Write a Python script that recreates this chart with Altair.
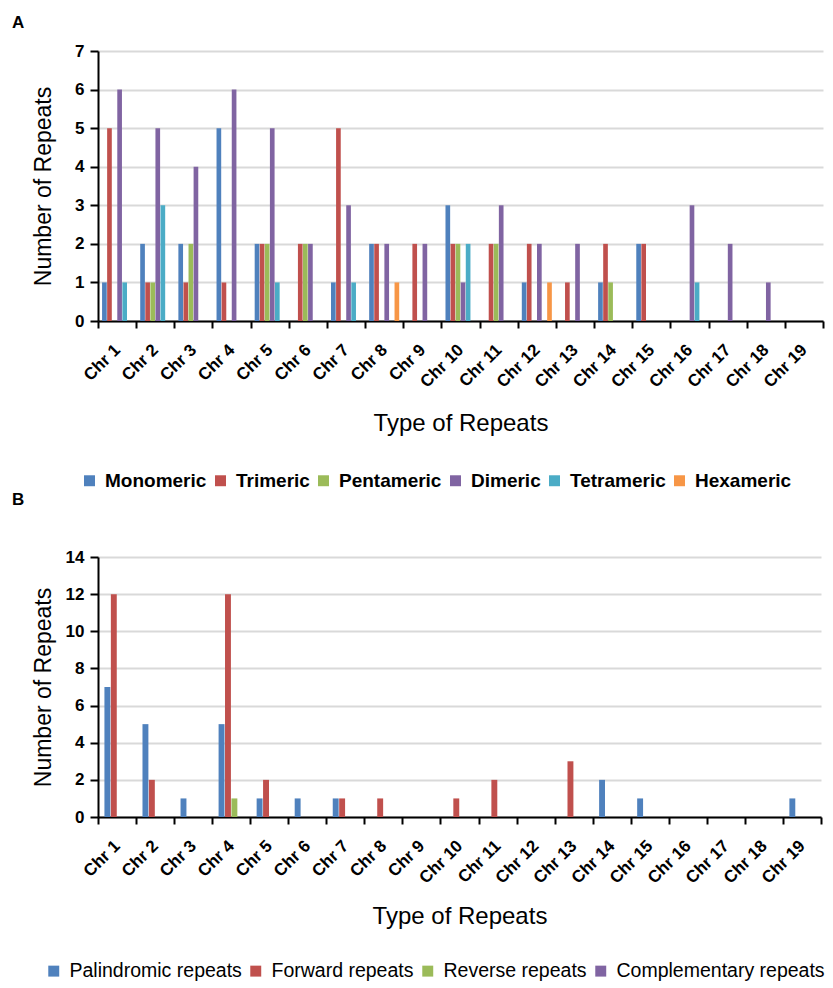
import altair as alt
import pandas as pd

chromosomes = [f"Chr {i}" for i in range(1, 20)]

# Panel A: SSR types
ssr_types = ["Monomeric", "Trimeric", "Pentameric", "Dimeric", "Tetrameric", "Hexameric"]
ssr_colors = ["#4F81BD", "#C0504D", "#9BBB59", "#8064A2", "#4BACC6", "#F79646"]
monomeric = [1, 2, 2, 5, 2, 0, 1, 2, 0, 3, 0, 1, 0, 1, 2, 0, 0, 0, 0]
trimeric = [5, 1, 1, 1, 2, 2, 5, 2, 2, 2, 2, 2, 1, 2, 2, 0, 0, 0, 0]
pentameric = [0, 1, 2, 0, 2, 2, 0, 0, 0, 2, 2, 0, 0, 1, 0, 0, 0, 0, 0]
dimeric = [6, 5, 4, 6, 5, 2, 3, 2, 2, 1, 3, 2, 2, 0, 0, 3, 2, 1, 0]
tetrameric = [1, 3, 0, 0, 1, 0, 1, 0, 0, 2, 0, 0, 0, 0, 0, 1, 0, 0, 0]
hexameric = [0, 0, 0, 0, 0, 0, 0, 1, 0, 0, 0, 1, 0, 0, 0, 0, 0, 0, 0]

# Panel B: long repeat types
rep_types = ["Palindromic repeats", "Forward repeats", "Reverse repeats", "Complementary repeats"]
rep_colors = ["#4F81BD", "#C0504D", "#9BBB59", "#8064A2"]
palindromic = [7, 5, 1, 5, 1, 1, 1, 0, 0, 0, 0, 0, 0, 2, 1, 0, 0, 0, 1]
forward = [12, 2, 0, 12, 2, 0, 1, 1, 0, 1, 2, 0, 3, 0, 0, 0, 0, 0, 0]
reverse = [0, 0, 0, 1, 0, 0, 0, 0, 0, 0, 0, 0, 0, 0, 0, 0, 0, 0, 0]
complementary = [0, 0, 0, 0, 0, 0, 0, 0, 0, 0, 0, 0, 0, 0, 0, 0, 0, 0, 0]


def long_df(types, series):
    rows = []
    for t, vals in zip(types, series):
        for c, v in zip(chromosomes, vals):
            rows.append({"chr": c, "type": t, "value": v})
    return pd.DataFrame(rows)


df_a = long_df(ssr_types, [monomeric, trimeric, pentameric, dimeric, tetrameric, hexameric])
df_b = long_df(rep_types, [palindromic, forward, reverse, complementary])

FONT = "Liberation Sans"


def panel(df, types, colors, ymax, ystep, width, height, letter, off_outer,
          leg_weight, leg_size, leg_x, leg_y, title_y, col_pad, letter_offset):
    x_axis = alt.Axis(
        title="Type of Repeats", titleFontSize=24, titleFontWeight="normal",
        titleColor="black", titleBaseline="middle", titleY=title_y,
        labelAngle=-45, labelAlign="right", labelBaseline="middle",
        labelFontSize=17, labelFontWeight="bold", labelColor="black",
        labelPadding=19, labelOffset=0,
        tickBand="extent", tickSize=7, tickWidth=2, tickColor="black",
        domainColor="black", domainWidth=2, grid=False,
    )
    y_axis = alt.Axis(
        title="Number of Repeats", titleFontSize=23, titleFontWeight="normal",
        titleColor="black", titleX=-43, titleBaseline="bottom",
        values=list(range(0, ymax + 1, ystep)),
        labelFontSize=17, labelFontWeight="bold", labelColor="black", labelPadding=6,
        tickSize=8, tickWidth=2, tickColor="black",
        domainColor="black", domainWidth=2,
        grid=True, gridColor="#d9d9d9", gridWidth=2,
    )
    legend = alt.Legend(
        orient="none", legendX=leg_x, legendY=leg_y, direction="horizontal",
        columns=len(types), title=None, labelFontSize=leg_size, labelFontWeight=leg_weight,
        labelColor="black", symbolType="square", symbolSize=120, symbolStrokeWidth=0,
        labelOffset=6, columnPadding=col_pad, labelLimit=400, padding=0,
    )
    return alt.Chart(df).mark_bar().encode(
        x=alt.X("chr:N", sort=chromosomes, scale=alt.Scale(paddingInner=0, paddingOuter=0), axis=x_axis),
        xOffset=alt.XOffset("type:N", sort=types,
                            scale=alt.Scale(domain=types, paddingInner=0.08, paddingOuter=off_outer)),
        y=alt.Y("value:Q", scale=alt.Scale(domain=[0, ymax], nice=False), axis=y_axis),
        color=alt.Color("type:N", sort=types, scale=alt.Scale(domain=types, range=colors), legend=legend),
    ).properties(
        width=width, height=height,
        title=alt.TitleParams(letter, anchor="start", frame="group", dx=-86, fontSize=17,
                              fontWeight="bold", color="black", offset=letter_offset),
    )


chart_a = panel(df_a, ssr_types, ssr_colors, 7, 1, 725, 270, "A", 0.8,
                "bold", 19, -18, 420, 102, 4, 10)
chart_b = panel(df_b, rep_types, rep_colors, 14, 2, 723, 260, "B", 1.0,
                "normal", 19.5, -54, 404, 99, 4, 39)

chart = alt.vconcat(chart_a, chart_b, spacing=0).resolve_scale(
    color="independent", xOffset="independent"
).properties(
    padding={"left": 4, "top": 6, "right": 0, "bottom": 0}
).configure(font=FONT).configure_view(stroke=None)

chart.save("out.html", embed_options={"renderer": "svg", "actions": False})
